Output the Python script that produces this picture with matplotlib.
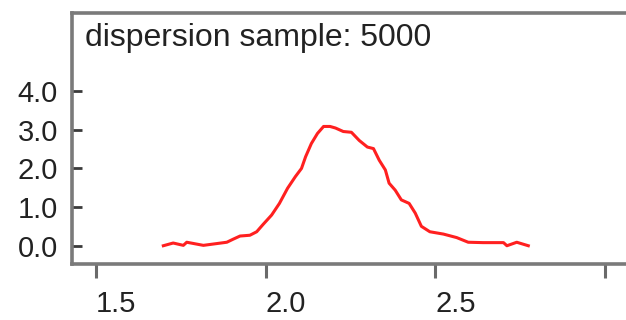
import numpy as np
import matplotlib
matplotlib.use("Agg")
import matplotlib.pyplot as plt

plt.rcParams['font.family'] = ['Liberation Sans', 'DejaVu Sans']

# curve
x_vals = [1.699, 1.728, 1.758, 1.768, 1.817, 1.886, 1.905, 1.925, 1.954, 1.974,
          1.993, 2.018, 2.041, 2.065, 2.088, 2.106, 2.118, 2.135, 2.153, 2.171,
          2.190, 2.206, 2.229, 2.253, 2.276, 2.300, 2.318, 2.335, 2.353, 2.364,
          2.382, 2.400, 2.423, 2.441, 2.459, 2.484, 2.524, 2.563, 2.597, 2.641,
          2.701, 2.711, 2.740, 2.774]
y_vals = [0.01, 0.08, 0.02, 0.10, 0.02, 0.10, 0.18, 0.26, 0.28, 0.37,
          0.56, 0.80, 1.10, 1.49, 1.79, 2.00, 2.30, 2.64, 2.90, 3.08,
          3.08, 3.04, 2.95, 2.93, 2.72, 2.55, 2.51, 2.21, 1.96, 1.62,
          1.44, 1.19, 1.10, 0.85, 0.51, 0.37, 0.31, 0.22, 0.10, 0.09,
          0.09, 0.01, 0.10, 0.01]

x_ticks = [1.5, 2.0, 2.5, 3.0]
x_labels = ['1.5', '2.0', '2.5', '']
y_ticks = [0.0, 1.0, 2.0, 3.0, 4.0]
y_labels = ['0.0', '1.0', '2.0', '3.0', '4.0']
title = 'dispersion sample: 5000'

W, H = 626, 320
fig = plt.figure(figsize=(W / 100, H / 100), dpi=100)
# axes box in pixels: left 72, top 13, bottom 264, right runs past the edge
ax = fig.add_axes([72 / W, 1 - 264 / H, (640 - 72) / W, (264 - 13) / H])

ax.plot(x_vals, y_vals, color='#ff2020', lw=2.2)

ax.set_xlim(1.43, 3.103)
ax.set_ylim(-0.46, 6.0)

for side in ['left', 'top', 'bottom']:
    ax.spines[side].set_color('#7a7a7a')
    ax.spines[side].set_linewidth(2.6)
ax.spines['right'].set_visible(False)

ax.set_xticks(x_ticks)
ax.set_xticklabels(x_labels, ha='left')
ax.set_yticks(y_ticks)
ax.set_yticklabels(y_labels)

ax.tick_params(axis='x', direction='out', length=10, width=2.2, color='#6a6a6a',
               pad=9, labelsize=21, labelcolor='#222222')
ax.tick_params(axis='y', direction='in', length=7, width=2.0, color='#3a3a3a',
               pad=10, labelsize=21, labelcolor='#222222')

fig.text(85 / W, 1 - 46 / H, title, fontsize=23, color='#222222',
         ha='left', va='baseline')

fig.savefig('out.png', dpi=100)
